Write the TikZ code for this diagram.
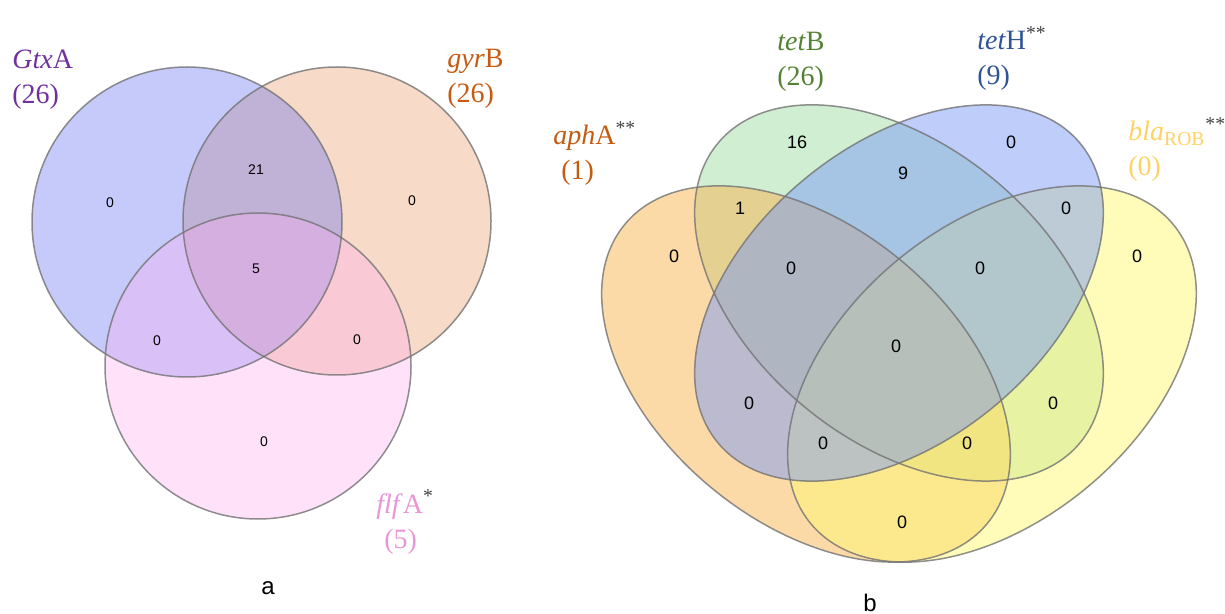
\documentclass[tikz,border=0pt]{standalone}
\usepackage{fontspec}
\setmainfont{Liberation Serif}
\setsansfont{Liberation Sans}
\definecolor{gtxtext}{RGB}{112,48,160}
\definecolor{gyrtext}{RGB}{197,90,17}
\definecolor{flftext}{RGB}{232,150,215}
\definecolor{tetBtext}{RGB}{84,130,53}
\definecolor{tetHtext}{RGB}{47,85,151}
\definecolor{blatext}{RGB}{255,210,100}
\definecolor{gtxfill}{RGB}{89,104,241}
\definecolor{gyrfill}{RGB}{232,149,98}
\definecolor{flffill}{RGB}{255,172,241}
\definecolor{aphfill}{RGB}{249,181,81}
\definecolor{tetBfill}{RGB}{161,221,165}
\definecolor{tetHfill}{RGB}{125,155,245}
\definecolor{blafill}{RGB}{255,249,115}
\begin{document}
\begin{tikzpicture}[x=0.5pt, y=-0.5pt,
  rim/.style={draw=black!55, line width=0.75pt, draw opacity=0.8},
  disc/.style={fill opacity=0.35},
  leaf/.style={fill opacity=0.5},
  cnt/.style={font=\sffamily\fontsize{7}{8}\selectfont},
  cntb/.style={font=\sffamily\fontsize{9}{10}\selectfont},
  lbl/.style={anchor=base west, inner sep=0pt, align=left,
    font=\fontsize{14}{17.5}\selectfont},
  tag/.style={font=\sffamily\fontsize{12}{14}\selectfont}]
\useasboundingbox (0,0) rectangle (1225,614);

% a: three genes
\coordinate (gtx) at (187,222);
\coordinate (gyr) at (337,221);
\coordinate (flf) at (258,366);
\fill[disc, gyrfill] (gyr) circle [radius=154];
\fill[disc, gtxfill] (gtx) circle [radius=155];
\fill[disc, flffill] (flf) circle [radius=153];
\draw[rim] (gtx) circle [radius=155];
\draw[rim] (gyr) circle [radius=154];
\draw[rim] (flf) circle [radius=153];

\node[cnt] (a1) at (110,203) {0};
\node[cnt] (a12) at (256,170) {21};
\node[cnt] (a2) at (412,201) {0};
\node[cnt] (a123) at (256,269) {5};
\node[cnt] (a13) at (157,341) {0};
\node[cnt] (a23) at (357,340) {0};
\node[cnt] (a3) at (264,442) {0};

% labels sit on the baseline of their last line
\node[lbl, text=gtxtext] (gtxlbl) at (12,104) {\textit{Gtx}A\\(26)};
\node[lbl, text=gyrtext] (gyrlbl) at (447,103) {\textit{gyr}B\\(26)};
\node[lbl, text=flftext] (flflbl) at (376,548)
  {\textit{flf}A\textcolor{black!75}{\textsuperscript{*}}\\\hspace{4pt}(5)};
\node[tag] (taga) at (268,588) {a};

% b: four genes
\coordinate (inner) at (899,293);
\coordinate (aph) at (806,374);
\coordinate (bla) at (992,374);
\fill[leaf, tetBfill, rotate around={-39.5:(inner)}] (inner) ellipse [x radius=235, y radius=148];
\fill[leaf, aphfill, rotate around={-39.5:(aph)}] (aph) ellipse [x radius=235, y radius=148];
\fill[leaf, blafill, rotate around={39.5:(bla)}] (bla) ellipse [x radius=235, y radius=148];
\fill[leaf, tetHfill, rotate around={39.5:(inner)}] (inner) ellipse [x radius=235, y radius=148];
\draw[rim, rotate around={-39.5:(inner)}] (inner) ellipse [x radius=235, y radius=148];
\draw[rim, rotate around={-39.5:(aph)}] (aph) ellipse [x radius=235, y radius=148];
\draw[rim, rotate around={39.5:(bla)}] (bla) ellipse [x radius=235, y radius=148];
\draw[rim, rotate around={39.5:(inner)}] (inner) ellipse [x radius=235, y radius=148];

\node[cntb] (b2) at (797,142) {16};
\node[cntb] (b23) at (903,173) {9};
\node[cntb] (b3) at (1011,142) {0};
\node[cntb] (b1) at (674,256) {0};
\node[cntb] (b12) at (740,208) {1};
\node[cntb] (b123) at (791,268) {0};
\node[cntb] (b234) at (980,268) {0};
\node[cntb] (b34) at (1066,208) {0};
\node[cntb] (b4) at (1137,256) {0};
\node[cntb] (b1234) at (896,346) {0};
\node[cntb] (b13) at (749,403) {0};
\node[cntb] (b24) at (1053,403) {0};
\node[cntb] (b134) at (823,443) {0};
\node[cntb] (b124) at (967,443) {0};
\node[cntb] (b14) at (902,522) {0};

\node[lbl, text=gyrtext] (aphlbl) at (553,180)
  {\textit{aph}A\textcolor{black!75}{\textsuperscript{**}}\\\hspace{4pt}(1)};
\node[lbl, text=tetBtext] (tetBlbl) at (777,86) {\textit{tet}B\\(26)};
\node[lbl, text=tetHtext] (tetHlbl) at (977,85)
  {\textit{tet}H\textcolor{black!75}{\textsuperscript{**}}\\(9)};
\node[lbl, text=blatext] (blalbl) at (1128,176)
  {\textit{bla}\textsubscript{ROB}\textcolor{black!75}{\textsuperscript{**}}\\(0)};
\node[tag] (tagb) at (870,603) {b};
\end{tikzpicture}
\end{document}
